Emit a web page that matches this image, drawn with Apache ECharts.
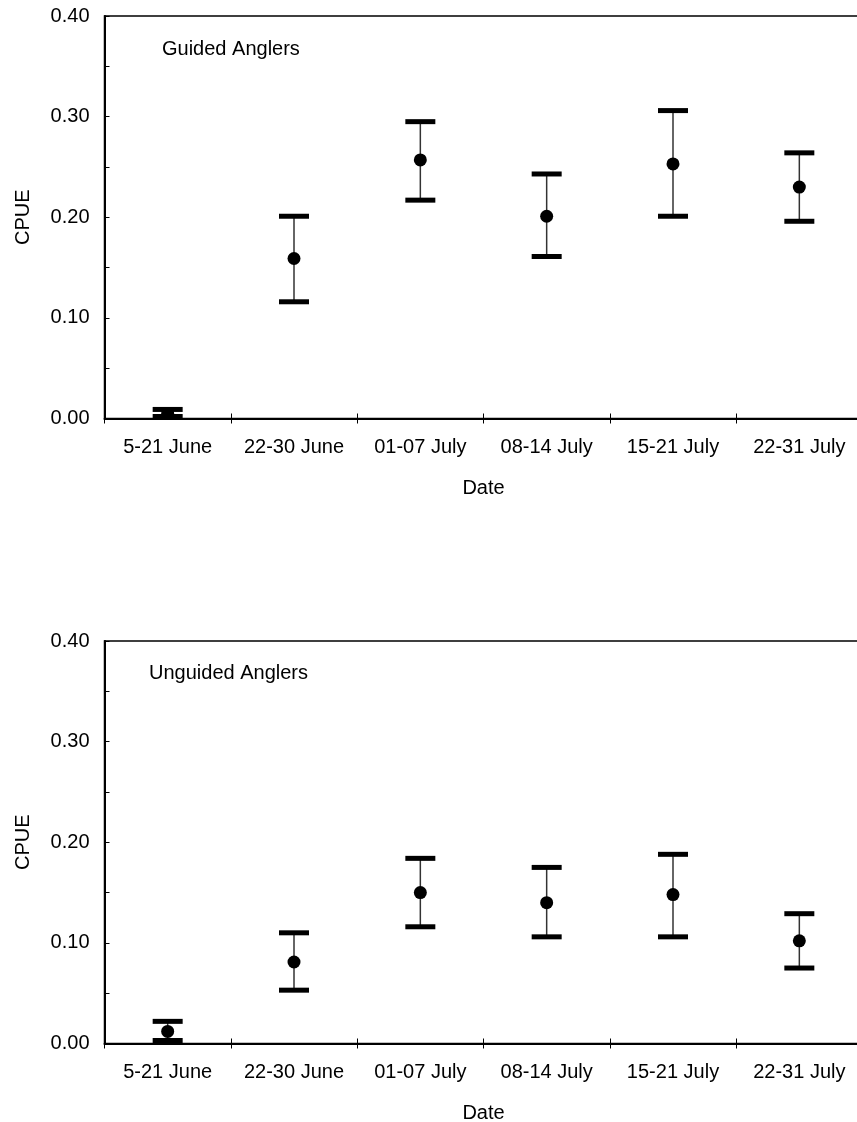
<!DOCTYPE html>
<html>
<head>
<meta charset="utf-8">
<script src="https://cdn.jsdelivr.net/npm/echarts@6/dist/echarts.min.js"></script>
<style>
html,body{margin:0;padding:0;background:#fff;}
#chart{width:857px;height:1122px;}
</style>
</head>
<body>
<div id="chart"></div>
<script>
var categories = ['5-21 June', '22-30 June', '01-07 July', '08-14 July', '15-21 July', '22-31 July'];
var guidedMean = [0.005, 0.159, 0.257, 0.201, 0.253, 0.230];
var guidedLow  = [0.002, 0.116, 0.217, 0.161, 0.201, 0.196];
var guidedHigh = [0.009, 0.201, 0.295, 0.243, 0.306, 0.264];
var unguidedMean = [0.012, 0.081, 0.150, 0.140, 0.148, 0.102];
var unguidedLow  = [0.003, 0.053, 0.116, 0.106, 0.106, 0.075];
var unguidedHigh = [0.022, 0.110, 0.184, 0.175, 0.188, 0.129];
var panelTitles = ['Guided Anglers', 'Unguided Anglers'];
var yMin = 0, yMax = 0.4, yInterval = 0.1;

var FONT = 'Liberation Sans, Arial, sans-serif';
var FS = 20;

function errorRender(params, api) {
  var x = api.value(0);
  var lo = api.coord([x, api.value(1)]);
  var hi = api.coord([x, api.value(2)]);
  var hw = 15;
  return {
    type: 'group',
    children: [
      {type: 'line', shape: {x1: lo[0], y1: lo[1], x2: hi[0], y2: hi[1]}, style: {stroke: '#333', lineWidth: 1.5}},
      {type: 'line', shape: {x1: lo[0] - hw, y1: lo[1], x2: lo[0] + hw, y2: lo[1]}, style: {stroke: '#000', lineWidth: 5}},
      {type: 'line', shape: {x1: hi[0] - hw, y1: hi[1], x2: hi[0] + hw, y2: hi[1]}, style: {stroke: '#000', lineWidth: 5}}
    ]
  };
}

function errData(lo, hi) {
  return categories.map(function (c, i) { return [i, lo[i], hi[i]]; });
}

var gridTops = [16, 641];
var grids = [], xAxes = [], yAxes = [], series = [], titles = [];
var panels = [
  {mean: guidedMean, lo: guidedLow, hi: guidedHigh, titleLeft: 162, titleTop: 39},
  {mean: unguidedMean, lo: unguidedLow, hi: unguidedHigh, titleLeft: 149, titleTop: 663}
];

panels.forEach(function (p, k) {
  grids.push({
    left: 104.5, width: 758, top: gridTops[k], height: 402.5,
    outerBoundsMode: 'none', containLabel: false,
    show: true, borderColor: '#000', borderWidth: 1.5, backgroundColor: 'transparent'
  });
  xAxes.push({
    type: 'category', gridIndex: k, data: categories, boundaryGap: true,
    axisLine: {show: true, lineStyle: {color: '#000', width: 2}},
    axisTick: {show: true, length: 5, interval: 0, lineStyle: {color: '#000', width: 1}},
    axisLabel: {color: '#000', fontFamily: FONT, fontSize: FS, margin: 19, interval: 0, hideOverlap: false},
    name: 'Date', nameLocation: 'middle', nameGap: 60,
    nameTextStyle: {color: '#000', fontFamily: FONT, fontSize: FS},
    splitLine: {show: false}
  });
  xAxes.push({
    type: 'category', gridIndex: k, data: categories, boundaryGap: true, position: 'bottom',
    axisLine: {show: false}, axisLabel: {show: false},
    axisTick: {show: true, inside: true, length: 5, interval: 0, lineStyle: {color: '#000', width: 1}},
    splitLine: {show: false}
  });
  yAxes.push({
    type: 'value', gridIndex: k, min: yMin, max: yMax, interval: yInterval,
    axisLine: {show: true, lineStyle: {color: '#000', width: 2}},
    axisTick: {show: true, inside: true, length: 5, lineStyle: {color: '#000', width: 1}},
    minorTick: {show: true, splitNumber: 2, length: 5, lineStyle: {color: '#000', width: 1}},
    axisLabel: {color: '#000', fontFamily: FONT, fontSize: FS, margin: 15,
      formatter: function (v) { return v.toFixed(2); }},
    splitLine: {show: false},
    name: 'CPUE', nameLocation: 'middle', nameGap: 71,
    nameTextStyle: {color: '#000', fontFamily: FONT, fontSize: FS}
  });
  series.push({
    type: 'custom', xAxisIndex: 2 * k, yAxisIndex: k,
    renderItem: errorRender, data: errData(p.lo, p.hi), z: 3, silent: true
  });
  series.push({
    type: 'scatter', xAxisIndex: 2 * k, yAxisIndex: k,
    data: p.mean, symbol: 'circle', symbolSize: 13,
    itemStyle: {color: '#000', opacity: 1}, z: 4, silent: true
  });
  titles.push({
    text: panelTitles[k], left: p.titleLeft, top: p.titleTop, padding: 0,
    textStyle: {color: '#000', fontFamily: FONT, fontSize: FS, fontWeight: 'normal'}
  });
});

var chart = echarts.init(document.getElementById('chart'), null, {renderer: 'canvas'});
chart.setOption({
  animation: false,
  backgroundColor: '#fff',
  title: titles,
  grid: grids,
  xAxis: xAxes,
  yAxis: yAxes,
  series: series
});
</script>
</body>
</html>
